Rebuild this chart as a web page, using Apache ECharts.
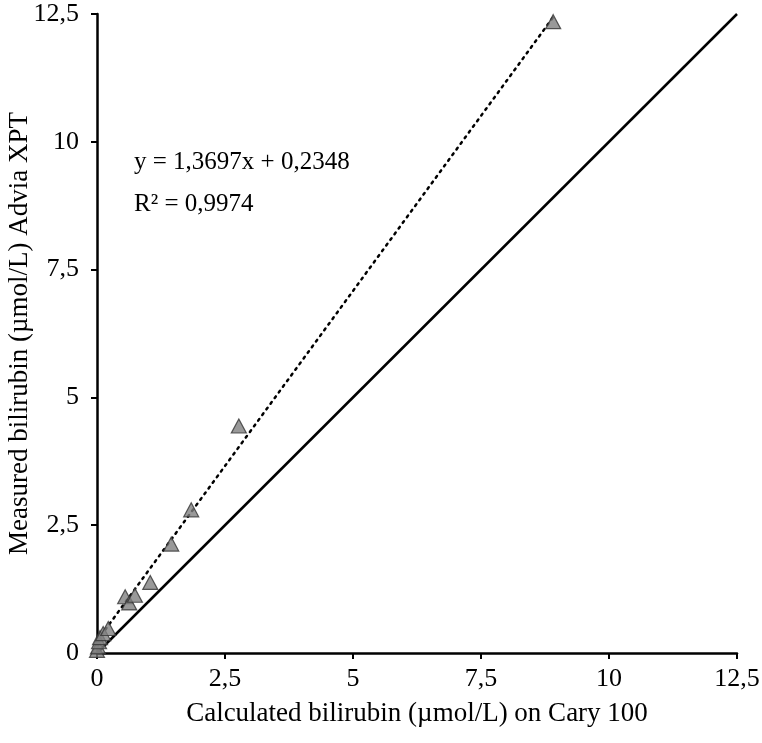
<!DOCTYPE html>
<html>
<head>
<meta charset="utf-8">
<script src="https://cdn.jsdelivr.net/npm/echarts@6/dist/echarts.min.js"></script>
<style>
  html, body { margin: 0; padding: 0; background: #fff; }
  #chart { width: 762px; height: 743px; }
</style>
</head>
<body>
<div id="chart"></div>
<script>
// calculated bilirubin on Cary 100 (x) vs measured on Advia XPT (y)
const calculated = [0.00, 0.02, 0.04, 0.06, 0.12, 0.22, 0.55, 0.63, 0.74, 1.04, 1.45, 1.84, 2.77, 8.91]
const measured   = [0.05, 0.12, 0.22, 0.30, 0.38, 0.48, 1.10, 0.98, 1.13, 1.38, 2.13, 2.80, 4.44, 12.35]
// trend line shown in the chart
const trendSlope = 1.3697
const trendIntercept = 0.2348
const trendText = ['y = 1,3697x + 0,2348', 'R² = 0,9974']
// identity line ends
const identity = [[0, 0], [12.5, 12.5]]

const points = calculated.map((x, i) => [x, measured[i]])
const xMin = Math.min(...calculated)
const xMax = Math.max(...calculated)
const trendLine = [
  [xMin, trendSlope * xMin + trendIntercept],
  [xMax, trendSlope * xMax + trendIntercept]
]

const font = 'Liberation Serif'
const fmt = v => String(v).replace('.', ',')

const axisCommon = {
  type: 'value',
  min: 0,
  max: 12.5,
  interval: 2.5,
  splitLine: { show: false },
  axisLine: { show: true, onZero: false, lineStyle: { color: '#000', width: 2.5 } },
  axisTick: { show: true, length: 6, lineStyle: { color: '#000', width: 2 } },
  axisLabel: { color: '#000', fontFamily: font, fontSize: 26, formatter: fmt },
  nameLocation: 'middle',
  nameMoveOverlap: false,
  nameTextStyle: { color: '#000', fontFamily: font, fontSize: 27 }
}

const chart = echarts.init(document.getElementById('chart'))
chart.setOption({
  animation: false,
  backgroundColor: '#fff',
  grid: { left: 97, right: 25, top: 14, bottom: 90, containLabel: false, outerBoundsMode: 'none' },
  xAxis: Object.assign({}, axisCommon, {
    name: 'Calculated bilirubin (µmol/L) on Cary 100',
    nameGap: 47,
    axisLabel: Object.assign({}, axisCommon.axisLabel, { margin: 13 })
  }),
  yAxis: Object.assign({}, axisCommon, {
    name: 'Measured bilirubin (µmol/L) Advia XPT',
    nameGap: 64,
    axisLabel: Object.assign({}, axisCommon.axisLabel, { margin: 18 })
  }),
  series: [
    {
      type: 'line',
      data: identity,
      symbol: 'none',
      lineStyle: { color: '#000', width: 2.5 },
      z: 2
    },
    {
      type: 'line',
      data: trendLine,
      symbol: 'none',
      lineStyle: { color: '#000', width: 2.5, type: [2, 5], cap: 'round' },
      z: 3
    },
    {
      type: 'scatter',
      data: points,
      symbol: 'triangle',
      symbolSize: [15, 14],
      itemStyle: { color: '#808080', borderColor: '#333', borderWidth: 1.2 },
      z: 4
    }
  ],
  graphic: trendText.map((t, i) => ({
    type: 'text',
    left: 134,
    top: 150 + i * 42,
    style: { text: t, fill: '#000', font: '25px "' + font + '"' }
  }))
})
</script>
</body>
</html>
